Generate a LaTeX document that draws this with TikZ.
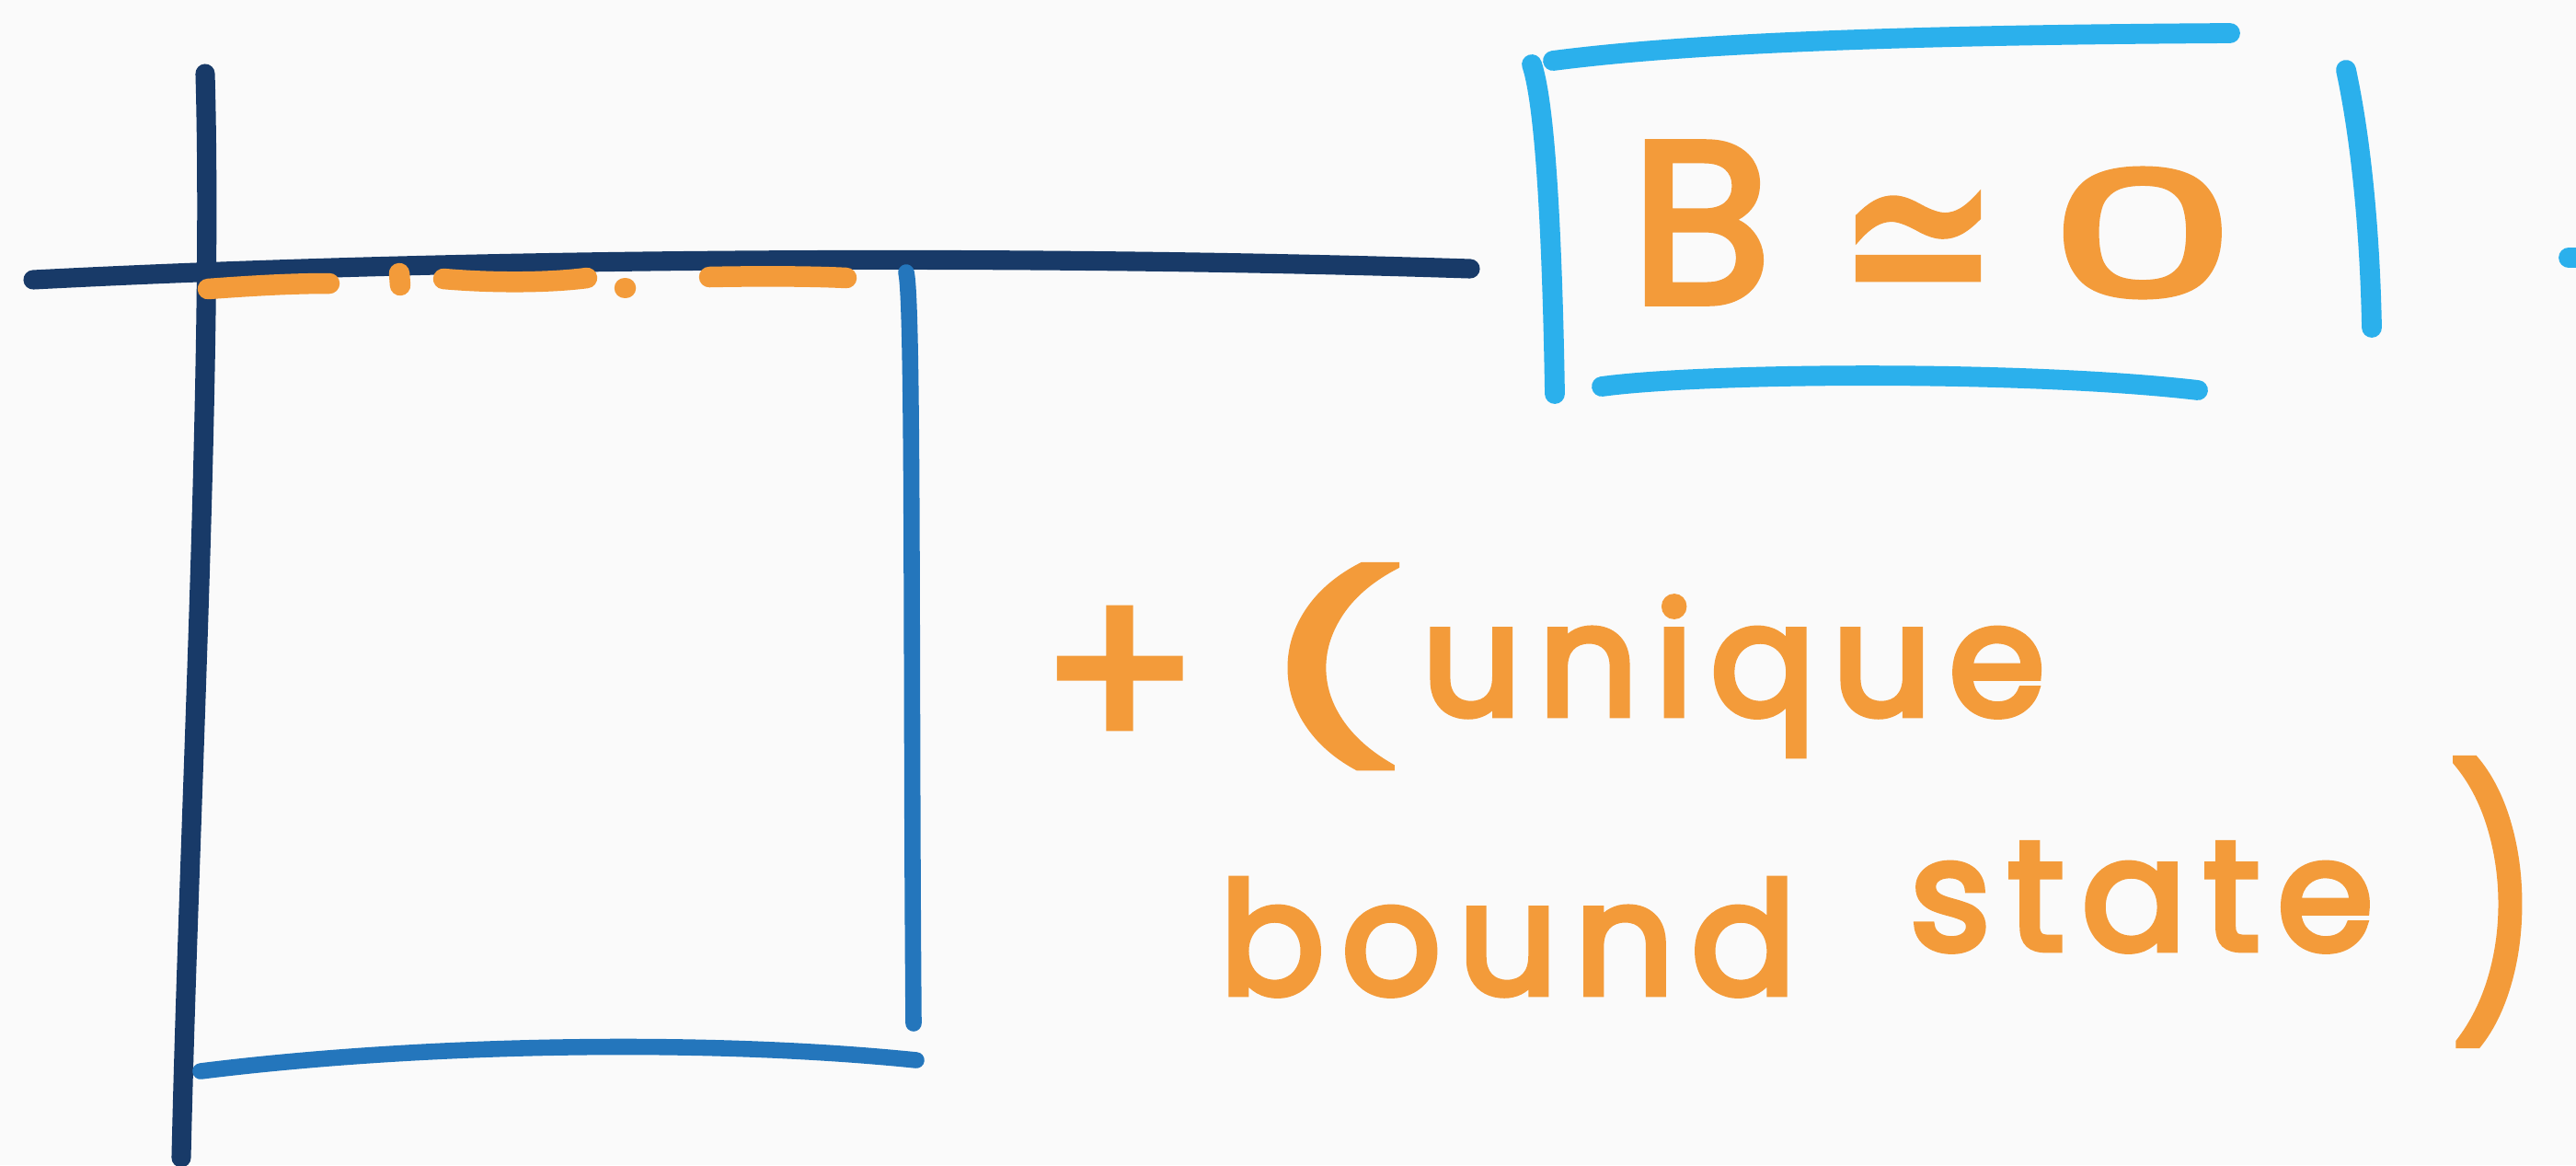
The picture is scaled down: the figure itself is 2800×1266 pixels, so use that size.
\documentclass[tikz,border=0pt]{standalone}
\usepackage{fontspec}
\usepackage{graphicx}
\newfontfamily\hand{Poppins}[LetterSpace=11,FakeBold=4]
\newfontfamily\handplain{Poppins}[FakeBold=3]
\newfontfamily\symfont{DejaVu Sans}[FakeBold=2]
\definecolor{paper}{RGB}{250,250,250}
\definecolor{navy}{RGB}{24,58,104}
\definecolor{wallblue}{RGB}{36,118,188}
\definecolor{skyblue}{RGB}{43,176,236}
\definecolor{marker}{RGB}{243,155,58}
\begin{document}
\begin{tikzpicture}[x=0.01cm,y=-0.01cm,
  axis/.style={draw=navy,line width=6pt,line cap=round},
  wall/.style={draw=wallblue,line width=5pt,line cap=round},
  frame/.style={draw=skyblue,line width=6.2pt,line cap=round},
  level/.style={draw=marker,line width=6.4pt,line cap=round},
  ink/.style={text=marker,inner sep=0pt},
  script/.style={ink,font=\hand\fontsize{48}{56}\selectfont}]
\fill[paper] (0,0) rectangle (2800,1266);
\useasboundingbox (0,0) rectangle (2800,1266);

% energy axis and position axis
\draw[axis] (223,80) .. controls (232,400) and (205,900) .. (197,1258);
\draw[axis] (36,304) .. controls (500,280) and (1100,276) .. (1598,292);

% right wall and floor of the well
\draw[wall] (985,296) .. controls (993,330) and (990,750) .. (993,1112);
\draw[wall] (218,1164) .. controls (450,1135) and (760,1128) .. (996,1152);

% bound level just below zero, drawn dash-dot
\draw[level] (226,314) .. controls (280,310) and (320,308) .. (358,308);
\draw[level] (434,297) -- (435,310);
\draw[level] (482,303) .. controls (540,308) and (600,307) .. (638,302);
\draw[level] (679,313) -- (680,313);
\draw[level] (771,301) .. controls (820,300) and (880,300) .. (920,302);

% frame round the condition
\draw[frame] (1665,70) .. controls (1682,120) and (1688,300) .. (1690,428);
\draw[frame] (1688,66) .. controls (1850,45) and (2100,38) .. (2424,36);
\draw[frame] (2550,76) .. controls (2566,150) and (2576,250) .. (2578,356);
\draw[frame] (1741,420) .. controls (1850,405) and (2200,402) .. (2389,424);
\draw[frame] (2792,280) -- (2800,280);

% the condition  B ~= 0
\node[ink,font=\handplain\fontsize{71}{80}\selectfont] (bee) at (1849,242) {B};
\node[ink,font=\symfont\fontsize{60}{70}\selectfont] (approx) at (2085,282) {\scalebox{1}[1.35]{≃}};
\node[ink,font=\handplain\fontsize{54}{60}\selectfont] (zero) at (2329,253) {\scalebox{1.7}[1]{0}};

% remark
\node[ink,font=\handplain\fontsize{72}{80}\selectfont] (plus) at (1217,740) {+};
\node[ink,font=\handplain\fontsize{56}{64}\selectfont] (lparen) at (1447,724) {\scalebox{1.8}[1]{(}};
\node[script,anchor=base west] (unique) at (1545,777) {unique};
\node[script,anchor=base west] (bound) at (1325,1080) {bound};
\node[script,anchor=base west] (state) at (2075,1032) {state};
\node[ink,font=\handplain\fontsize{48}{56}\selectfont] (rparen) at (2712,980) {\scalebox{1.3}[1.64]{)}};
\end{tikzpicture}
\end{document}
